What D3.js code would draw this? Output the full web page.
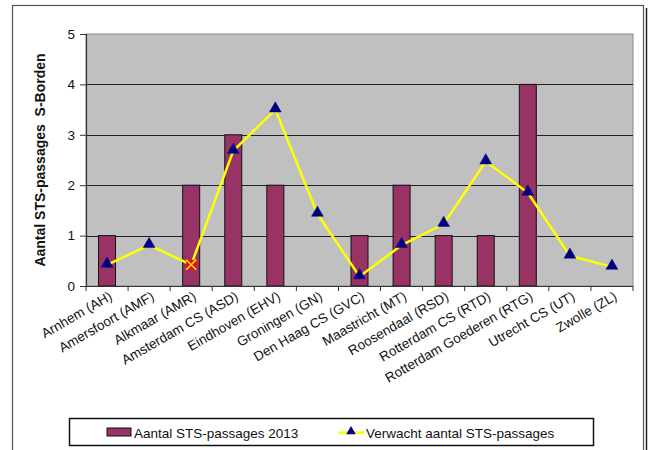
<!DOCTYPE html>
<html>
<head>
<meta charset="utf-8">
<script src="https://cdn.jsdelivr.net/npm/d3@7"></script>
<style>
  html, body { margin: 0; padding: 0; background: #fff; }
  svg { display: block; font-family: "Liberation Sans", Arial, sans-serif; }
</style>
</head>
<body>
<svg id="chart" width="648" height="450"></svg>
<script>
// Stations along the x axis
const stations = [
  "Arnhem (AH)", "Amersfoort (AMF)", "Alkmaar (AMR)", "Amsterdam CS (ASD)",
  "Eindhoven (EHV)", "Groningen (GN)", "Den Haag CS (GVC)", "Maastricht (MT)",
  "Roosendaal (RSD)", "Rotterdam CS (RTD)", "Rotterdam Goederen (RTG)",
  "Utrecht CS (UT)", "Zwolle (ZL)"
];
// Observed STS passages in 2013
const actual2013 = [1, 0, 2, 3, 2, 0, 1, 2, 1, 1, 4, 0, 0];
// Expected number of STS passages
const expected = [0.42, 0.81, 0.42, 2.68, 3.5, 1.43, 0.19, 0.81, 1.23, 2.47, 1.85, 0.6, 0.38];
// Point drawn with the alternate (square/cross) marker
const alternateMarker = ["Alkmaar (AMR)"];
const yTicks = [0, 1, 2, 3, 4, 5];

const FONT = "'Liberation Sans', Arial, sans-serif";
const svg = d3.select("#chart");
const plot = { left: 86, right: 633, top: 34, bottom: 286 };

// Outer chart frame
svg.append("rect").attr("x", 12.5).attr("y", 5.5).attr("width", 631).attr("height", 460)
  .attr("fill", "none").attr("stroke", "#555").attr("stroke-width", 1.2);
svg.append("line").attr("x1", 646.5).attr("x2", 646.5).attr("y1", 8).attr("y2", 450)
  .attr("stroke", "#222").attr("stroke-width", 1.5);

const x = d3.scaleBand().domain(stations).range([plot.left, plot.right]).paddingInner(0).paddingOuter(0);
const y = d3.scaleLinear().domain([0, 5]).range([plot.bottom, plot.top]);

// Plot area
svg.append("rect").attr("x", plot.left).attr("y", plot.top)
  .attr("width", plot.right - plot.left).attr("height", plot.bottom - plot.top)
  .attr("fill", "#C0C0C0").attr("stroke", "#8a8a8a").attr("stroke-width", 1);

// Horizontal grid lines
svg.append("g").selectAll("line").data(yTicks.filter(d => d > 0 && d < 5)).join("line")
  .attr("x1", plot.left).attr("x2", plot.right)
  .attr("y1", d => Math.round(y(d)) + 0.5).attr("y2", d => Math.round(y(d)) + 0.5)
  .attr("stroke", "#222").attr("stroke-width", 1);

// Bars
const barW = 17;
svg.append("g").selectAll("rect").data(actual2013.map((v, i) => ({ s: stations[i], v })).filter(d => d.v > 0))
  .join("rect")
  .attr("x", d => x(d.s) + x.bandwidth() / 2 - barW / 2)
  .attr("y", d => y(d.v))
  .attr("width", barW)
  .attr("height", d => y(0) - y(d.v))
  .attr("fill", "#993366").attr("stroke", "#111").attr("stroke-width", 1);

// Y axis
const yAxis = d3.axisLeft(y).tickValues(yTicks).tickSize(6).tickFormat(d3.format("d"));
const gy = svg.append("g").attr("transform", `translate(${plot.left},0)`).call(yAxis)
  .attr("font-family", FONT);
gy.select(".domain").attr("stroke", "#333").attr("stroke-width", 1.2);
gy.selectAll(".tick line").attr("stroke", "#333");
gy.selectAll(".tick text").attr("font-size", 13.5).attr("fill", "#111").attr("x", -11);

// X axis with category boundaries as ticks
const gx = svg.append("g").attr("transform", `translate(0,${plot.bottom})`).attr("font-family", FONT);
gx.append("line").attr("x1", plot.left).attr("x2", plot.right).attr("y1", 0.5).attr("y2", 0.5)
  .attr("stroke", "#333").attr("stroke-width", 1.2);
const bounds = stations.map(s => x(s)).concat([plot.right]);
gx.selectAll("line.tk").data(bounds).join("line").attr("class", "tk")
  .attr("x1", d => d).attr("x2", d => d).attr("y1", 0).attr("y2", 5)
  .attr("stroke", "#333");
gx.selectAll("text").data(stations).join("text")
  .attr("transform", d => `translate(${x(d) + x.bandwidth() / 2 + 6},${13}) rotate(-30)`)
  .attr("text-anchor", "end")
  .attr("font-size", 13.5).attr("fill", "#111")
  .text(d => d);

// Expected-value line
const line = d3.line().x((d, i) => x(stations[i]) + x.bandwidth() / 2).y(d => y(d));
svg.append("path").datum(expected).attr("d", line)
  .attr("fill", "none").attr("stroke", "#FFFF00").attr("stroke-width", 2.5).attr("stroke-linejoin", "round");

// Markers
const tri = d3.symbol().type(d3.symbolTriangle).size(60);
const pts = expected.map((v, i) => ({ s: stations[i], v }));
svg.append("g").selectAll("path").data(pts.filter(d => !alternateMarker.includes(d.s))).join("path")
  .attr("transform", d => `translate(${x(d.s) + x.bandwidth() / 2},${y(d.v) - 1})`)
  .attr("d", tri).attr("fill", "#000080").attr("stroke", "#000080").attr("stroke-width", 0.5);
const alt = svg.append("g").selectAll("g").data(pts.filter(d => alternateMarker.includes(d.s))).join("g")
  .attr("transform", d => `translate(${x(d.s) + x.bandwidth() / 2},${y(d.v)})`);
alt.append("rect").attr("x", -5).attr("y", -5).attr("width", 10).attr("height", 10).attr("fill", "#FF0000");
alt.append("path").attr("d", "M-5,-5L5,5M5,-5L-5,5").attr("stroke", "#FFFF00").attr("stroke-width", 1.5);

// Y axis title
svg.append("text").attr("transform", "translate(45,160) rotate(-90)")
  .attr("text-anchor", "middle").attr("font-size", 14).attr("font-weight", "bold").attr("fill", "#111")
  .attr("font-family", FONT)
  .style("white-space", "pre")
  .text("Aantal STS-passages  S-Borden");

// Legend
const lg = svg.append("g").attr("font-family", FONT);
lg.append("rect").attr("x", 69.5).attr("y", 418.5).attr("width", 524).attr("height", 27)
  .attr("fill", "#fff").attr("stroke", "#111").attr("stroke-width", 1.5);
lg.append("rect").attr("x", 107).attr("y", 428).attr("width", 24).attr("height", 8)
  .attr("fill", "#993366").attr("stroke", "#111").attr("stroke-width", 1);
lg.append("text").attr("x", 134).attr("y", 437.5).attr("font-size", 13.5).attr("fill", "#111")
  .text("Aantal STS-passages 2013");
lg.append("line").attr("x1", 338).attr("x2", 364).attr("y1", 432.5).attr("y2", 432.5)
  .attr("stroke", "#FFFF00").attr("stroke-width", 2.5);
lg.append("path").attr("transform", "translate(351,431.5)")
  .attr("d", d3.symbol().type(d3.symbolTriangle).size(40)).attr("fill", "#000080");
lg.append("text").attr("x", 366).attr("y", 437.5).attr("font-size", 13.5).attr("fill", "#111")
  .text("Verwacht aantal STS-passages");
</script>
</body>
</html>
